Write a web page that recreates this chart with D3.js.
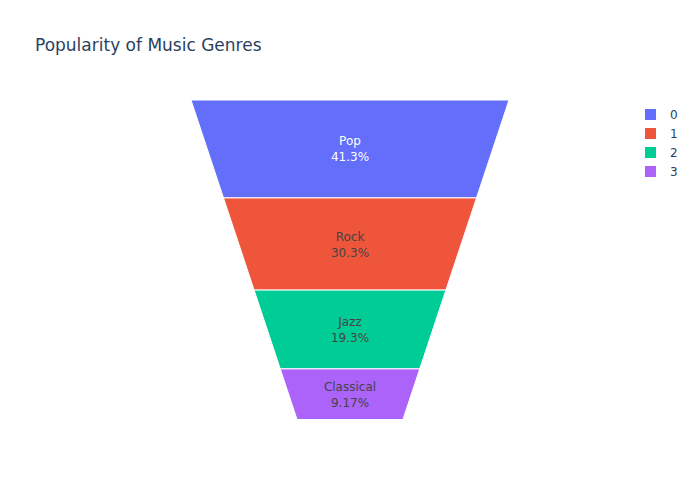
<!DOCTYPE html>
<html>
<head>
<meta charset="utf-8">
<script src="https://cdn.jsdelivr.net/npm/d3@7"></script>
<style>
body{margin:0;background:#fff;}
svg{font-family:"DejaVu Sans",Verdana,sans-serif;}
</style>
</head>
<body>
<svg id="chart" width="700" height="500"></svg>
<script>
const labels = ["Pop","Rock","Jazz","Classical"];
const values = [45,33,21,10];
const legendNames = ["0","1","2","3"];
const colors = ["#636efa","#EF553B","#00cc96","#ab63fa"];
const textColors = ["#ffffff","#444444","#444444","#444444"];
const title = "Popularity of Music Genres";

const svg = d3.select("#chart");
const baseRatio = 0.333;
const cx = 350;
const total = d3.sum(values);

const yScale = d3.scaleLinear().domain([0,1]).range([100,419.5]);
const halfW = d3.scaleLinear().domain([0,1]).range([159, 159*baseRatio]);

function depth(A){
  const r = baseRatio;
  if (A >= 1) return 1;
  return (1 - Math.sqrt(1 - (1-r)*(1+r)*A)) / (1-r);
}

let cum = 0;
const segs = values.map((v,i)=>{
  const a0 = cum/total; cum += v; const a1 = cum/total;
  return {i, label: labels[i], v, pct: v/total, t0: depth(a0), t1: depth(a1)};
});

const g = svg.append("g");
g.selectAll("path").data(segs).enter().append("path")
  .attr("d", d=>{
    const y0 = yScale(d.t0), y1 = yScale(d.t1);
    const w0 = halfW(d.t0), w1 = halfW(d.t1);
    return `M${cx-w0},${y0}L${cx+w0},${y0}L${cx+w1},${y1}L${cx-w1},${y1}Z`;
  })
  .attr("fill", d=>colors[d.i])
  .attr("stroke","#fff").attr("stroke-width",1);

function fmtPct(p){
  return d3.format(".3~r")(p*100) + "%";
}

const tg = g.selectAll("text.lbl").data(segs).enter().append("text")
  .attr("class","lbl")
  .attr("text-anchor","middle")
  .attr("font-size",12)
  .attr("fill", d=>textColors[d.i]);
tg.each(function(d){
  const yc = (yScale(d.t0)+yScale(d.t1))/2;
  const t = d3.select(this);
  t.append("tspan").attr("x",cx).attr("y",yc-3.5).text(d.label);
  t.append("tspan").attr("x",cx).attr("y",yc+12.5).text(fmtPct(d.pct));
});

svg.append("text").attr("x",35).attr("y",50.5)
  .attr("font-size",17).attr("fill","#2a3f5f").text(title);

const lg = svg.append("g");
const items = lg.selectAll("g").data(legendNames).enter().append("g")
  .attr("transform",(d,i)=>`translate(0,${114.5+i*19})`);
items.append("rect").attr("x",645).attr("y",-5.5).attr("width",11).attr("height",11)
  .attr("fill",(d,i)=>colors[i]);
items.append("text").attr("x",670).attr("y",4.3).attr("font-size",12)
  .attr("fill","#2a3f5f").text(d=>d);
</script>
</body>
</html>
